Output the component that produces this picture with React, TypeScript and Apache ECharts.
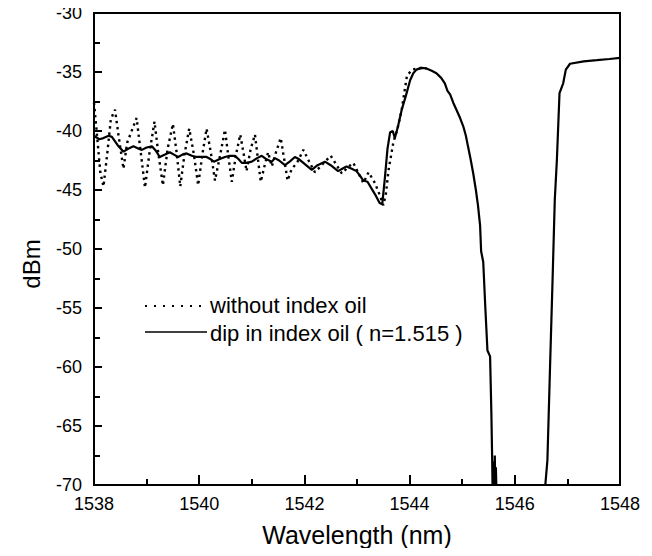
import React, { useEffect, useRef } from "react";
import * as echarts from "echarts";

const xTicks = [1538, 1540, 1542, 1544, 1546, 1548];
const yTicks = [-70, -65, -60, -55, -50, -45, -40, -35, -30];

const seriesNames = ["without index oil", "dip in index oil ( n=1.515 )"];

// without index oil (dotted)
const dryWl = [
  1538.0, 1538.05, 1538.12, 1538.18, 1538.25, 1538.32, 1538.4, 1538.47, 1538.56, 1538.63,
  1538.69, 1538.81, 1538.88, 1538.97, 1539.05, 1539.15, 1539.22, 1539.31, 1539.4, 1539.5,
  1539.57, 1539.64, 1539.72, 1539.81, 1539.9, 1539.98, 1540.06, 1540.14, 1540.22, 1540.3,
  1540.4, 1540.49, 1540.55, 1540.62, 1540.7, 1540.78, 1540.84, 1540.9, 1540.98, 1541.06,
  1541.12, 1541.17, 1541.24, 1541.31, 1541.38, 1541.46, 1541.55, 1541.62, 1541.68, 1541.76,
  1541.86, 1541.98, 1542.08, 1542.2, 1542.35, 1542.5, 1542.6, 1542.71, 1542.82, 1542.93,
  1543.03, 1543.12, 1543.22, 1543.34, 1543.43, 1543.5, 1543.55, 1543.6, 1543.69, 1543.77,
  1543.85, 1543.95, 1544.05, 1544.15, 1544.25, 1544.32,
];
const dryDbm = [
  -37.6, -40.0, -43.5, -44.7, -42.0, -39.0, -38.2, -40.5, -43.2, -41.0,
  -40.3, -38.9, -41.5, -44.8, -42.0, -39.2, -41.8, -44.6, -41.5, -39.4,
  -41.8, -44.7, -42.0, -39.8, -42.0, -44.6, -42.0, -39.8, -41.8, -44.2,
  -42.0, -39.9, -42.0, -44.3, -42.0, -40.3, -41.8, -43.4, -41.5, -40.3,
  -42.5, -44.3, -43.0, -41.8, -43.0, -41.8, -40.6, -42.5, -44.2, -43.2,
  -42.7, -41.6, -42.5, -43.5, -42.8, -42.1, -42.8, -43.6, -43.1, -42.7,
  -43.6, -44.4, -43.5, -44.4, -45.4, -46.3, -45.3, -43.3, -41.0, -39.8,
  -38.2, -35.3, -34.8, -34.7, -34.65, -34.7,
];

// dip in index oil (solid)
const oilWl = [
  1538.0, 1538.1, 1538.18, 1538.28, 1538.34, 1538.45, 1538.56, 1538.65, 1538.75, 1538.85,
  1538.91, 1539.0, 1539.1, 1539.18, 1539.25, 1539.35, 1539.44, 1539.52, 1539.6, 1539.68,
  1539.76, 1539.86, 1539.95, 1540.05, 1540.14, 1540.22, 1540.28, 1540.38, 1540.49, 1540.58,
  1540.68, 1540.75, 1540.81, 1540.9, 1541.0, 1541.1, 1541.19, 1541.28, 1541.38, 1541.44,
  1541.52, 1541.63, 1541.72, 1541.82, 1541.9, 1541.98, 1542.06, 1542.14, 1542.25, 1542.39,
  1542.5, 1542.64, 1542.72, 1542.8, 1542.9, 1542.99, 1543.06, 1543.12, 1543.2, 1543.28,
  1543.36, 1543.43, 1543.48, 1543.53, 1543.58, 1543.63, 1543.68, 1543.72, 1543.78, 1543.85,
  1543.93, 1544.01, 1544.07, 1544.13, 1544.22, 1544.32, 1544.42, 1544.51, 1544.6, 1544.67,
  1544.72, 1544.77, 1544.83, 1544.89, 1544.96, 1545.02, 1545.07, 1545.11, 1545.16, 1545.21,
  1545.26, 1545.3, 1545.34, 1545.36, 1545.4, 1545.44, 1545.48, 1545.53, 1545.555, 1545.57,
  1545.58, 1545.6, 1545.61, 1545.62, 1545.63, 1545.64, 1545.66, 1545.7, 1546.5, 1546.58,
  1546.62, 1546.67, 1546.72, 1546.76, 1546.8, 1546.85, 1546.92, 1546.97, 1547.05, 1547.31,
  1547.56, 1547.8, 1548.0,
];
const oilDbm = [
  -40.4, -40.7, -40.6, -40.4, -40.5, -41.2, -41.75, -41.5, -41.3, -41.5,
  -41.6, -41.4, -41.3, -41.7, -42.2, -42.0, -41.8, -42.0, -42.2, -42.0,
  -41.9, -42.1, -42.2, -42.2, -42.2, -42.4, -42.6, -42.4, -42.2, -42.1,
  -42.1, -42.4, -42.7, -42.7, -42.6, -42.3, -42.1, -42.4, -42.6, -42.3,
  -42.5, -42.9, -42.6, -42.2, -42.4, -42.7, -43.0, -43.3, -42.9, -42.6,
  -42.9, -43.4, -43.2, -43.0, -43.2, -43.4, -43.8, -44.2, -44.3, -44.9,
  -45.5, -46.1, -46.2, -44.0, -41.5, -40.1, -40.0, -40.6, -39.6, -38.2,
  -37.0, -35.7, -35.1, -34.8, -34.65, -34.7, -34.9, -35.1, -35.5, -35.96,
  -36.6, -36.9, -37.6, -38.2, -38.9, -39.6, -40.4, -41.3, -42.4, -43.6,
  -45.0, -46.3, -48.0, -50.2, -51.1, -55.0, -58.6, -59.1, -64.0, -67.9,
  -71.0, -68.0, -71.0, -67.5, -71.0, -68.5, -72.0, -75.0, -75.0, -70.0,
  -67.9, -60.0, -52.3, -45.85, -42.46, -36.8, -35.96, -34.8, -34.3, -34.1,
  -34.0, -33.9, -33.8,
];

const FONT = "'Liberation Sans', Arial, Helvetica, sans-serif";
const DOT: number[] = [2.4, 3.8];

export default function App() {
  const ref = useRef<HTMLDivElement>(null);
  useEffect(() => {
    if (!ref.current) return;
    const chart = echarts.init(ref.current, undefined, { renderer: "svg" });
    const dry = dryWl.map((w, i) => [w, dryDbm[i]]);
    const oil = oilWl.map((w, i) => [w, oilDbm[i]]);
    chart.setOption({
      animation: false,
      backgroundColor: "#ffffff",
      textStyle: { fontFamily: FONT, color: "#000" },
      grid: {
        left: 94,
        right: 32,
        top: 13,
        bottom: 71,
        show: true,
        borderColor: "#000",
        borderWidth: 2,
        containLabel: false,
      },
      graphic: [
        {
          type: "text",
          x: 31,
          y: 264,
          rotation: Math.PI / 2,
          style: {
            text: "dBm",
            font: `24px ${FONT}`,
            fill: "#000",
            align: "center",
            verticalAlign: "middle",
          },
        },
        {
          type: "line",
          shape: { x1: 145, y1: 306, x2: 207, y2: 306 },
          style: { stroke: "#000", lineWidth: 2, lineDash: [2, 7] },
        },
        {
          type: "text",
          x: 210,
          y: 305,
          style: {
            text: seriesNames[0],
            font: `22px ${FONT}`,
            fill: "#000",
            align: "left",
            verticalAlign: "middle",
          },
        },
        {
          type: "line",
          shape: { x1: 145, y1: 332, x2: 207, y2: 332 },
          style: { stroke: "#000", lineWidth: 1.3 },
        },
        {
          type: "text",
          x: 210,
          y: 333,
          style: {
            text: seriesNames[1],
            font: `22px ${FONT}`,
            fill: "#000",
            align: "left",
            verticalAlign: "middle",
          },
        },
      ],
      xAxis: {
        type: "value",
        min: xTicks[0],
        max: xTicks[xTicks.length - 1],
        interval: 2,
        name: "Wavelength (nm)",
        nameLocation: "middle",
        nameGap: 37,
        nameTextStyle: { fontFamily: FONT, fontSize: 25, color: "#000" },
        axisLine: { show: true, onZero: false, lineStyle: { color: "#000", width: 2 } },
        axisTick: { show: true, inside: true, length: 10, lineStyle: { color: "#000", width: 2 } },
        minorTick: { show: true, splitNumber: 2, length: 6, lineStyle: { color: "#000", width: 2 } },
        splitLine: { show: false },
        axisLabel: {
          fontFamily: FONT,
          fontSize: 18,
          color: "#000",
          margin: 10,
          formatter: (v: number) => String(v),
        },
      },
      yAxis: {
        type: "value",
        min: yTicks[0],
        max: yTicks[yTicks.length - 1],
        interval: 5,
        axisLine: { show: true, onZero: false, lineStyle: { color: "#000", width: 2 } },
        axisTick: { show: true, inside: true, length: 8, lineStyle: { color: "#000", width: 2 } },
        minorTick: { show: true, splitNumber: 2, length: 6, lineStyle: { color: "#000", width: 2 } },
        splitLine: { show: false },
        axisLabel: {
          fontFamily: FONT,
          fontSize: 18,
          color: "#000",
          margin: 12,
        },
      },
      series: [
        {
          name: seriesNames[0],
          type: "line",
          data: dry,
          showSymbol: false,
          symbol: "none",
          clip: true,
          lineStyle: { color: "#000", width: 2.4, type: DOT },
          itemStyle: { color: "#000" },
          z: 3,
        },
        {
          name: seriesNames[1],
          type: "line",
          data: oil,
          showSymbol: false,
          symbol: "none",
          clip: true,
          lineStyle: { color: "#000", width: 2.2, type: "solid" },
          itemStyle: { color: "#000" },
          z: 2,
        },
      ],
    });
    return () => chart.dispose();
  }, []);
  return <div ref={ref} style={{ width: 652, height: 556, margin: -8 }} />;
}
